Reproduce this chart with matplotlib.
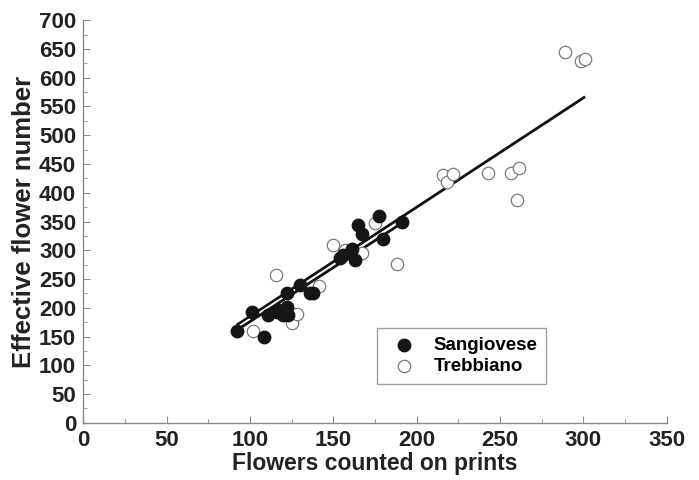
import matplotlib.pyplot as plt
import matplotlib.patheffects as pe
import numpy as np
from matplotlib.ticker import MultipleLocator

plt.rcParams['font.family'] = ['Liberation Sans', 'DejaVu Sans']

# data
sang_x = [92, 101.5, 108.7, 110.7, 116, 117, 120, 122, 123, 122, 130, 136, 138,
          154, 156, 161, 163, 165, 167, 177.6, 180, 191]
sang_y = [160, 193, 150, 188, 193, 196, 188, 202, 188, 225, 240, 225, 225,
          286, 292, 302, 283, 344, 329, 359, 319, 350]

treb_x = [102, 115.7, 125, 128, 141.7, 150, 157, 167, 175, 188,
          216, 218, 221.6, 242.6, 256.6, 261.6, 260.4, 289, 298.5, 301]
treb_y = [160, 257, 173, 190, 238, 310, 300, 296, 347, 277,
          431, 419, 432, 435, 435, 443, 387, 644, 629, 632]

# regression lines (slope, intercept, x range)
sang_fit = (1.88, -12.0, 92, 191)
all_fit = (1.90, -5.0, 92, 301)

fig = plt.figure(figsize=(6.99, 4.80), dpi=100)
ax = fig.add_axes([0.119, 0.119, 0.835, 0.839])

for slope, icpt, x0, x1 in [all_fit, sang_fit]:
    xs = np.array([x0, x1])
    ax.plot(xs, slope * xs + icpt, color='#111111', lw=2.0, zorder=2,
            solid_capstyle='butt',
            path_effects=[pe.Stroke(linewidth=4.5, foreground='white'), pe.Normal()])

ax.scatter(treb_x, treb_y, s=80, facecolors='white', edgecolors='#7a7a7a',
           linewidths=0.9, zorder=3, label='Trebbiano')
ax.scatter(sang_x, sang_y, s=80, color='#151515', zorder=4, label='Sangiovese')

ax.set_xlim(0, 350)
ax.set_ylim(0, 700)
ax.xaxis.set_major_locator(MultipleLocator(50))
ax.xaxis.set_minor_locator(MultipleLocator(25))
ax.yaxis.set_major_locator(MultipleLocator(50))
ax.yaxis.set_minor_locator(MultipleLocator(25))

for s in ['top', 'right']:
    ax.spines[s].set_visible(False)
for s in ['left', 'bottom']:
    ax.spines[s].set_color('#8a8a8a')
    ax.spines[s].set_linewidth(1.0)

ax.tick_params(which='major', direction='in', length=5, color='#8a8a8a',
               labelsize=16, labelcolor='#222222', pad=5)
ax.tick_params(which='minor', direction='in', length=3, color='#8a8a8a')
for lab in ax.get_xticklabels() + ax.get_yticklabels():
    lab.set_fontweight('bold')

ax.set_xlabel('Flowers counted on prints', fontsize=16.5, fontweight='bold',
              color='#222222', labelpad=1)
ax.set_ylabel('Effective flower number', fontsize=18.5, fontweight='bold',
              color='#222222', labelpad=2)

handles, labels = ax.get_legend_handles_labels()
leg = ax.legend(handles[::-1], labels[::-1], loc='lower left',
                bbox_to_anchor=(0.503, 0.097), frameon=True, fancybox=False,
                prop={'weight': 'bold', 'size': 13.5}, handletextpad=0.6,
                borderpad=0.45, labelspacing=0.25, borderaxespad=0)
leg.get_frame().set_edgecolor('#8a8a8a')
leg.get_frame().set_linewidth(1.0)

fig.savefig('out.png', dpi=100)
